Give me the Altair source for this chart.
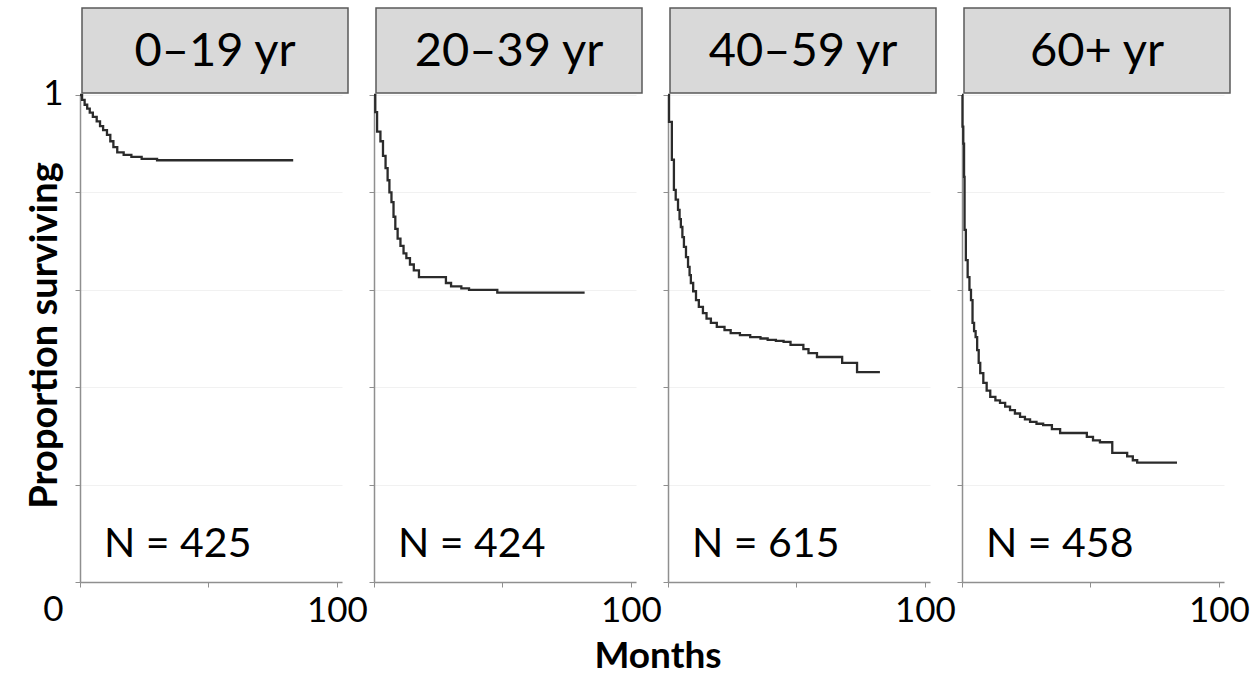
import altair as alt
import pandas as pd

# ---- data ----
groups = ["0–19 yr", "20–39 yr", "40–59 yr", "60+ yr"]
n_labels = ["N = 425", "N = 424", "N = 615", "N = 458"]

t1 = [0, 0.8, 1.8, 2.8, 3.8, 5, 6.5, 7.8, 9, 10.5, 11.8, 13, 14.5, 17, 20, 24, 30, 83]
s1 = [1, 0.99, 0.98, 0.972, 0.964, 0.955, 0.946, 0.936, 0.928, 0.918, 0.905, 0.893,
      0.882, 0.877, 0.873, 0.869, 0.866, 0.866]

t2 = [0, 0.5, 1.2, 2.5, 3.5, 4.5, 5.3, 6, 6.8, 7.6, 8.3, 9.2, 10.3, 11.5, 12.6, 14,
      15.5, 17.5, 28, 30, 34, 37, 48, 82]
s2 = [1, 0.965, 0.925, 0.905, 0.875, 0.85, 0.825, 0.80, 0.78, 0.75, 0.725, 0.705,
      0.69, 0.675, 0.665, 0.652, 0.64, 0.626, 0.614, 0.607, 0.603, 0.60, 0.594, 0.594]

t3 = [0, 0.4, 1.5, 2.3, 3, 3.9, 4.5, 5, 5.6, 6.2, 7, 7.8, 8.4, 8.9, 9.8, 10.9, 12,
      13.6, 15, 16.7, 19, 22, 24.4, 28, 32, 36, 38.8, 42, 45, 47.7, 52.7, 54.7, 58,
      67.8, 73.6, 82.5]
s3 = [1, 0.945, 0.867, 0.805, 0.785, 0.764, 0.745, 0.729, 0.708, 0.688, 0.667, 0.647,
      0.63, 0.614, 0.597, 0.579, 0.565, 0.552, 0.541, 0.532, 0.524, 0.517, 0.511,
      0.507, 0.503, 0.5, 0.497, 0.495, 0.493, 0.487, 0.478, 0.47, 0.462, 0.45, 0.431,
      0.431]

t4 = [0, 0.2, 0.5, 0.8, 1.0, 1.5, 2.2, 2.9, 3.5, 4.1, 4.7, 5.3, 5.9, 6.5, 7.1, 8.3,
      9.6, 11, 13, 14.8, 16.8, 18.7, 20.6, 22.6, 24.5, 26.5, 29, 31.6, 35, 38.2, 48.6,
      51, 53.7, 58.5, 64.3, 66.5, 68.2, 83.7]
s4 = [1, 0.935, 0.90, 0.832, 0.723, 0.661, 0.626, 0.60, 0.579, 0.532, 0.515, 0.503,
      0.476, 0.45, 0.429, 0.409, 0.393, 0.38, 0.373, 0.368, 0.36, 0.353, 0.346, 0.339,
      0.334, 0.329, 0.325, 0.322, 0.314, 0.306, 0.298, 0.291, 0.287, 0.265, 0.258,
      0.25, 0.245, 0.245]

times = [t1, t2, t3, t4]
survs = [s1, s2, s3, s4]

FONT = "Lato"
W, H = 262, 487
AXIS_GRAY = "#8f8f8f"


def panel(i):
    df = pd.DataFrame({"Months": times[i], "Surv": survs[i]})
    first = i == 0

    x_axis = alt.Axis(
        values=[0, 50, 100],
        labelExpr="datum.value == 100 ? '100' : ''",
        title=None,
        grid=False,
        tickSize=5,
        tickColor=AXIS_GRAY,
        domainColor=AXIS_GRAY,
        domainWidth=1.5,
        labelFontSize=35,
        labelFont=FONT,
        labelColor="#000",
        labelPadding=6,
        labelFlush=False,
        labelOverlap=False,
    )
    y_kwargs = dict(
        values=[0, 0.2, 0.4, 0.6, 0.8, 1.0],
        grid=True,
        gridColor="#f1f1f1",
        tickSize=5,
        tickColor=AXIS_GRAY,
        domainColor=AXIS_GRAY,
        domainWidth=1.5,
        labelFontSize=35,
        labelFont=FONT,
        labelColor="#000",
        labelPadding=12,
        labelOverlap=False,
        labelFlush=False,
    )
    if first:
        y_axis = alt.Axis(
            labelExpr="datum.value == 1 ? '1' : (datum.value == 0 ? '0' : '')",
            labelOffset={"condition": {"test": "datum.value == 0", "value": 27},
                         "value": -2},
            title="Proportion surviving",
            titleFontSize=38,
            titleFont=FONT,
            titleFontWeight="bold",
            titleColor="#000",
            titleX=-24,
            titleY=240,
            titleBaseline="alphabetic",
            titleAngle=270,
            **y_kwargs,
        )
    else:
        y_axis = alt.Axis(labelExpr="''", title=None, **y_kwargs)

    line = alt.Chart(df).mark_line(
        interpolate="step-after", color="#2b2b2b", strokeWidth=2.3
    ).encode(
        x=alt.X("Months:Q", scale=alt.Scale(domain=[0, 102], nice=False), axis=x_axis),
        y=alt.Y("Surv:Q", scale=alt.Scale(domain=[0, 1], nice=False), axis=y_axis),
    )

    lab = pd.DataFrame({"group": [groups[i]], "n": [n_labels[i]]})
    header = alt.Chart(lab).mark_rect(
        fill="#d9d9d9", stroke="#595959", strokeWidth=1.5
    ).encode(
        x=alt.value(2), x2=alt.value(268), y=alt.value(-87), y2=alt.value(-2)
    )
    header_text = alt.Chart(lab).mark_text(
        font=FONT, fontSize=47, color="#000", align="center", baseline="middle"
    ).encode(text="group:N", x=alt.value(135), y=alt.value(-43))
    n_text = alt.Chart(lab).mark_text(
        font=FONT, fontSize=41, color="#000", align="left", baseline="middle"
    ).encode(text="n:N", x=alt.value(24), y=alt.value(450))

    layers = [line, header, header_text, n_text]
    if i == 1:
        months = alt.Chart(pd.DataFrame({"t": ["Months"]})).mark_text(
            font=FONT, fontSize=37, fontWeight="bold", color="#000",
            align="center", baseline="middle"
        ).encode(text="t:N", x=alt.value(284), y=alt.value(562))
        layers.append(months)
    return alt.layer(*layers).properties(width=W, height=H)


chart = alt.hconcat(
    *[panel(i) for i in range(4)], spacing=32, bounds="flush"
).properties(
    padding={"left": 25, "top": 7, "right": 5, "bottom": 5},
    background="white",
).configure_view(stroke=None)

chart.save("out.html", embed_options={"renderer": "svg", "actions": False})
